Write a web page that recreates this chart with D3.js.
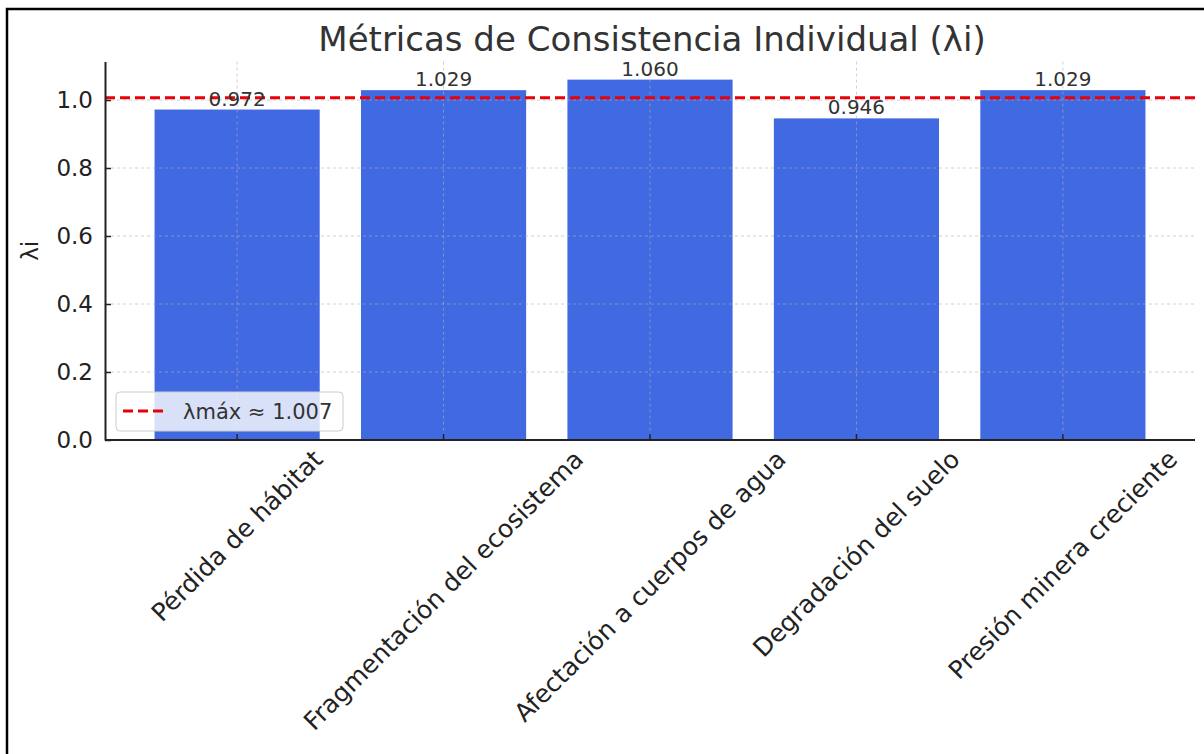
<!DOCTYPE html>
<html>
<head>
<meta charset="utf-8">
<script src="https://cdn.jsdelivr.net/npm/d3@7/dist/d3.min.js"></script>
<style>
  html, body { margin: 0; padding: 0; background: #fff; }
  svg { display: block; font-family: "DejaVu Sans", sans-serif; }
</style>
</head>
<body>
<svg id="chart" width="1204" height="754"></svg>
<script>
const categories = ["Pérdida de hábitat", "Fragmentación del ecosistema", "Afectación a cuerpos de agua", "Degradación del suelo", "Presión minera creciente"];
const values = [0.972, 1.029, 1.060, 0.946, 1.029];
const valueLabels = ["0.972", "1.029", "1.060", "0.946", "1.029"];
const lambdaMax = 1.007;
const legendLabel = "λmáx ≈ 1.007";
const yTicks = [0.0, 0.2, 0.4, 0.6, 0.8, 1.0];
const titleText = "Métricas de Consistencia Individual (λi)";
const yLabel = "λi";

const svg = d3.select("#chart");
const pLeft = 105, pRight = 1195, pTop = 61.6, pBottom = 440;

// frame
svg.append("rect").attr("x", 7).attr("y", 9).attr("width", 1300).attr("height", 900)
  .attr("fill", "none").attr("stroke", "#000").attr("stroke-width", 2.5);

const n = categories.length;
const x = d3.scaleLinear().domain([-0.64, n - 1 + 0.64]).range([pLeft, pRight]);
const barW = 0.8;
const y = d3.scaleLinear().domain([0, 1.113]).range([pBottom, pTop]);

// bars
svg.append("g").selectAll("rect").data(values).join("rect")
  .attr("x", (d, i) => x(i - barW / 2))
  .attr("width", (d, i) => x(i + barW / 2) - x(i - barW / 2))
  .attr("y", d => y(d))
  .attr("height", d => y(0) - y(d))
  .attr("fill", "#4169E1");

// grid
const grid = svg.append("g").attr("stroke", "#b0b0b0").attr("stroke-opacity", 0.6)
  .attr("stroke-width", 1).attr("stroke-dasharray", "3,3");
grid.selectAll("line.h").data(yTicks).join("line").attr("class", "h")
  .attr("x1", pLeft).attr("x2", pRight).attr("y1", d => y(d)).attr("y2", d => y(d));
grid.selectAll("line.v").data(categories).join("line").attr("class", "v")
  .attr("x1", (d, i) => x(i)).attr("x2", (d, i) => x(i)).attr("y1", pTop).attr("y2", pBottom);

// lambda max line
svg.append("line")
  .attr("x1", pLeft).attr("x2", pRight)
  .attr("y1", y(lambdaMax)).attr("y2", y(lambdaMax))
  .attr("stroke", "#e8000b").attr("stroke-width", 3).attr("stroke-dasharray", "10,5");

// value labels
svg.append("g").selectAll("text").data(values).join("text")
  .attr("x", (d, i) => x(i))
  .attr("y", d => y(d) - 4)
  .attr("text-anchor", "middle")
  .attr("font-size", 20)
  .attr("fill", "#333")
  .text((d, i) => valueLabels[i]);

// y axis
const yAxis = d3.axisLeft(y).tickValues(yTicks).tickFormat(d3.format(".1f")).tickSizeInner(-6).tickSizeOuter(0).tickPadding(12);
const gy = svg.append("g").attr("transform", `translate(${pLeft},0)`).call(yAxis);
gy.select(".domain").attr("stroke", "#222").attr("stroke-width", 2);
gy.selectAll(".tick line").attr("stroke", "#222").attr("stroke-width", 1.5);
gy.selectAll(".tick text").attr("font-size", 23).attr("fill", "#222").attr("font-family", "DejaVu Sans");

// x axis line and inward ticks
svg.append("line").attr("x1", pLeft).attr("x2", pRight).attr("y1", pBottom).attr("y2", pBottom)
  .attr("stroke", "#222").attr("stroke-width", 2);
svg.append("g").selectAll("line").data(categories).join("line")
  .attr("x1", (d, i) => x(i)).attr("x2", (d, i) => x(i))
  .attr("y1", pBottom).attr("y2", pBottom - 6)
  .attr("stroke", "#222").attr("stroke-width", 1.5);

// x labels rotated 45, bbox centered at tick
const xfs = 25;
const labTop = 446;
svg.append("g").selectAll("text").data(categories).join("text")
  .attr("font-size", xfs)
  .attr("fill", "#222")
  .attr("text-anchor", "middle")
  .attr("dominant-baseline", "central")
  .text(d => d)
  .each(function (d, i) {
    const L = this.getComputedTextLength();
    const h = xfs * 1.0;
    const s = (L + h) / Math.SQRT2;
    const cx = x(i), cy = labTop + s / 2;
    d3.select(this).attr("x", 0).attr("y", 0)
      .attr("transform", `translate(${cx},${cy}) rotate(-45)`);
  });

// y label
svg.append("text")
  .attr("transform", `translate(30,${(pTop + pBottom) / 2}) rotate(-90)`)
  .attr("text-anchor", "middle")
  .attr("dominant-baseline", "central")
  .attr("font-size", 23)
  .attr("fill", "#222")
  .text(yLabel);

// title
svg.append("text")
  .attr("x", (pLeft + pRight) / 2 + 2)
  .attr("y", 51)
  .attr("text-anchor", "middle")
  .attr("font-size", 34)
  .attr("fill", "#333")
  .text(titleText);

// legend
const lg = svg.append("g");
lg.append("rect").attr("x", 116).attr("y", 392).attr("width", 227).attr("height", 39)
  .attr("rx", 4).attr("fill", "#fff").attr("fill-opacity", 0.8)
  .attr("stroke", "#ccc").attr("stroke-width", 1);
lg.append("line").attr("x1", 123).attr("x2", 166).attr("y1", 411).attr("y2", 411)
  .attr("stroke", "#e8000b").attr("stroke-width", 3).attr("stroke-dasharray", "10,5");
lg.append("text").attr("x", 183).attr("y", 412).attr("dominant-baseline", "central")
  .attr("font-size", 21).attr("fill", "#333").text(legendLabel);
</script>
</body>
</html>
